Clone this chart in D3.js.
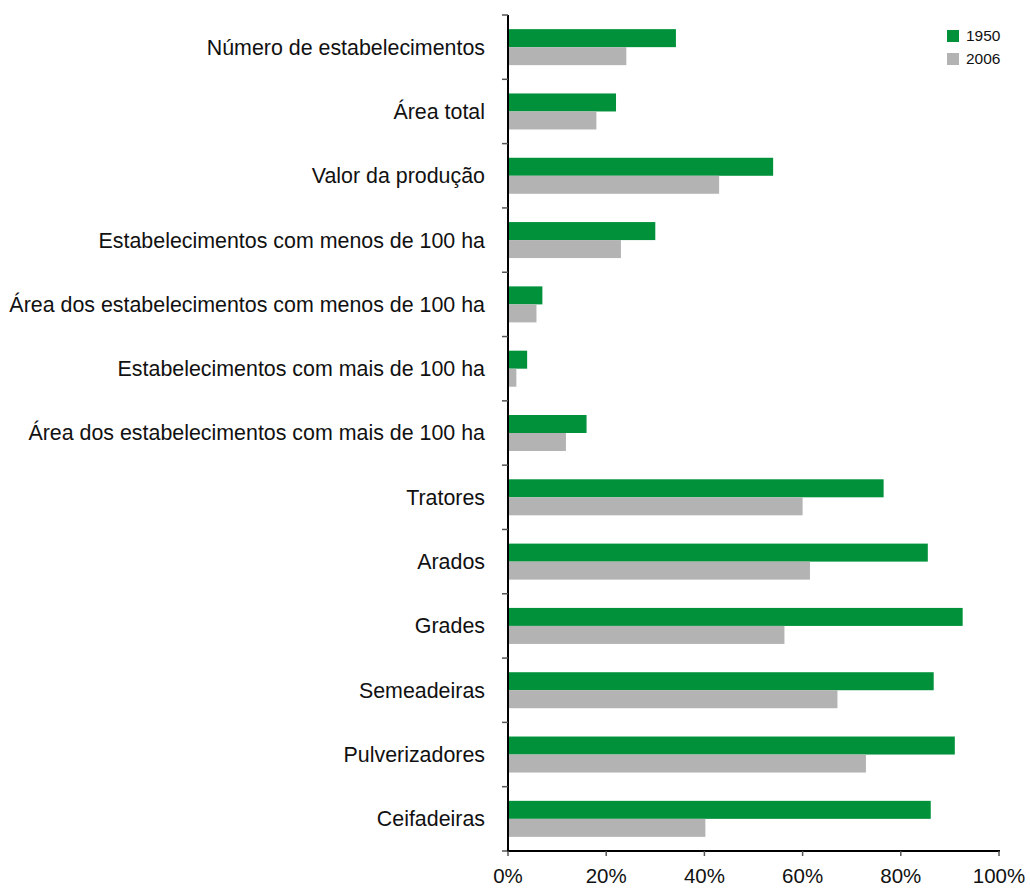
<!DOCTYPE html>
<html><head><meta charset="utf-8">
<script src="https://cdn.jsdelivr.net/npm/d3@7"></script>
<style>body{margin:0;background:#fff;}svg{display:block;font-family:"Liberation Sans",Arial,sans-serif;}</style>
</head><body><svg id="c" width="1030" height="888"></svg>
<script>
const categories = ["Número de estabelecimentos","Área total","Valor da produção","Estabelecimentos com menos de 100 ha","Área dos estabelecimentos com menos de 100 ha","Estabelecimentos com mais de 100 ha","Área dos estabelecimentos com mais de 100 ha","Tratores","Arados","Grades","Semeadeiras","Pulverizadores","Ceifadeiras"];
const values1950 = [34.2, 22, 54, 30, 7, 3.9, 16, 76.5, 85.5, 92.6, 86.7, 91, 86.1];
const values2006 = [24.1, 18, 43, 23, 5.8, 1.7, 11.8, 60, 61.5, 56.3, 67.1, 72.9, 40.2];
const seriesNames = ["1950","2006"];
const colors = ["#00913a","#b3b3b3"];
const xTicks = [0,20,40,60,80,100];

const svg = d3.select("#c");
const m = {left:508, right:999, top:15, bottom:851};
const x = d3.scaleLinear().domain([0,100]).range([m.left, m.right]);
const y = d3.scaleBand().domain(categories).range([m.top, m.bottom]).paddingInner(0.44).paddingOuter(0.22);
const y2 = d3.scaleBand().domain(seriesNames).range([0, y.bandwidth()]);

const g = svg.append("g");
categories.forEach((c,i)=>{
  [values1950[i], values2006[i]].forEach((v,j)=>{
    g.append("rect").attr("x", x(0)).attr("y", y(c)+y2(seriesNames[j]))
      .attr("width", x(v)-x(0)).attr("height", y2.bandwidth()).attr("fill", colors[j]);
  });
});

// y axis
const yax = svg.append("g").attr("transform",`translate(${m.left},0)`);
yax.append("line").attr("x1",0).attr("x2",0).attr("y1",m.top).attr("y2",m.bottom).attr("stroke","#000").attr("stroke-width",2);
const step = (m.bottom-m.top)/categories.length;
d3.range(categories.length+1).forEach(i=>{
  yax.append("line").attr("x1",-6).attr("x2",0).attr("y1",m.top+i*step).attr("y2",m.top+i*step).attr("stroke","#555").attr("stroke-width",1.5);
});
categories.forEach(c=>{
  yax.append("text").attr("x",-23).attr("y",y(c)+y.bandwidth()/2).attr("dy","0.35em")
    .attr("text-anchor","end").attr("font-size",21.4).attr("fill","#111").text(c);
});

// x axis
const xax = svg.append("g").attr("transform",`translate(0,${m.bottom})`);
xax.append("line").attr("x1",m.left-1).attr("x2",m.right+1).attr("y1",0).attr("y2",0).attr("stroke","#000").attr("stroke-width",2);
xTicks.forEach(t=>{
  xax.append("line").attr("x1",x(t)).attr("x2",x(t)).attr("y1",0).attr("y2",5).attr("stroke","#555").attr("stroke-width",1.5);
  xax.append("text").attr("x",x(t)).attr("y",32).attr("text-anchor","middle").attr("font-size",20.5).attr("fill","#111").text(t+"%");
});

// legend
const lg = svg.append("g").attr("transform","translate(947,30)");
seriesNames.forEach((s,i)=>{
  lg.append("rect").attr("x",0).attr("y",i*23).attr("width",12).attr("height",12).attr("fill",colors[i]);
  lg.append("text").attr("x",19).attr("y",i*23+6).attr("dy","0.35em").attr("font-size",15.5).attr("fill","#111").text(s);
});
</script></body></html>
